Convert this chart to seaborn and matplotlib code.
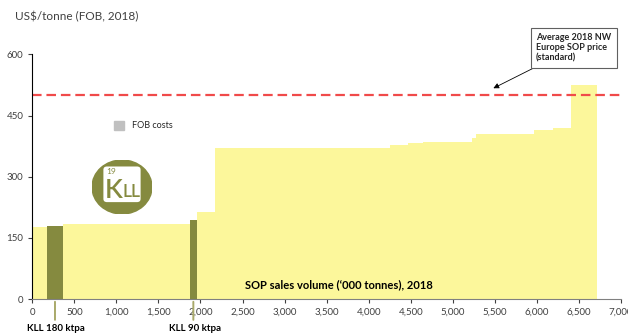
import numpy as np
import pandas as pd
import seaborn as sns
import matplotlib.pyplot as plt
from matplotlib.patches import Ellipse, FancyBboxPatch, Patch

# cost curve: step edges ('000 t) and FOB cost per step (US$/t)
edges = [0, 180, 360, 1870, 1960, 2170, 4250, 4470, 4650, 5230, 5280, 5970, 6190, 6400, 6715]
costs = [176, 178, 184, 193, 214, 371, 378, 383, 386, 396, 405, 414, 420, 525]
producer = ["Other", "KLL", "Other", "KLL", "Other", "Other", "Other", "Other",
            "Other", "Other", "Other", "Other", "Other", "Other"]
avg_price = 500
kll_labels = ["KLL 180 ktpa", "KLL 90 ktpa"]
kll_marks = [270, 1915]
x_ticks = list(range(0, 7001, 500))
y_ticks = [0, 150, 300, 450, 600]

yellow = "#fcf79b"
olive = "#858a3f"

sns.set_style("ticks")
plt.rcParams["font.family"] = ["Lato", "DejaVu Sans"]

df = pd.DataFrame({
    "mid": [(a + b) / 2 for a, b in zip(edges[:-1], edges[1:])],
    "cost": costs,
    "producer": producer,
})

fig = plt.figure(figsize=(6.28, 3.33), dpi=100)
ax = fig.add_axes([0.0514, 0.1021, 0.9375, 0.7345])

sns.histplot(data=df, x="mid", weights="cost", hue="producer", bins=edges,
             palette={"Other": yellow, "KLL": olive}, alpha=1, linewidth=0,
             multiple="layer", legend=False, ax=ax)

ax.axhline(avg_price, color="#f04a4a", lw=1.6, dashes=(4.3, 2.2))

ax.set_xlim(0, 7000)
ax.set_ylim(0, 600)
ax.set_xticks(x_ticks)
ax.set_xticklabels([f"{v:,}" for v in x_ticks])
ax.set_yticks(y_ticks)
ax.set_xlabel("")
ax.set_ylabel("")
ax.tick_params(labelsize=7, colors="#404040", length=3, width=0.8)
sns.despine(ax=ax)
ax.spines["left"].set_color("black")
ax.spines["bottom"].set_color("#808080")

ax.text(3640, 35, "SOP sales volume (\u2018000 tonnes), 2018", ha="center", va="center",
        fontsize=8, fontweight="bold", color="black")
fig.text(15 / 628, 1 - 17 / 333, "US$/tonne (FOB, 2018)", ha="left", va="center",
         fontsize=8.5, color="#404040")

# KLL markers below the axis
for xm, lab in zip(kll_marks, kll_labels):
    ax.annotate("", xy=(xm, 0), xycoords=("data", "axes fraction"),
                xytext=(0, -17), textcoords="offset points",
                arrowprops=dict(arrowstyle="-", color="#a9a96a", lw=1.4),
                annotation_clip=False)
    ax.annotate(lab, xy=(xm, 0), xycoords=("data", "axes fraction"),
                xytext=(1, -18), textcoords="offset points", ha="center", va="top",
                fontsize=7, fontweight="bold", color="black", annotation_clip=False)

# price callout
ax.annotate("Average 2018 NW\nEurope SOP price\n(standard)", xy=(5482, 517),
            xytext=(5990, 616), ha="left", va="center", fontsize=6.5, fontweight="bold",
            bbox=dict(boxstyle="square,pad=0.6", fc="white", ec="#606060", lw=0.8),
            arrowprops=dict(arrowstyle="-|>", color="black", lw=0.6,
                            shrinkA=0, shrinkB=0, mutation_scale=8),
            annotation_clip=False)

# legend
ax.legend(handles=[Patch(color="#c0c0c0", label="FOB costs")], loc="upper left",
          bbox_to_anchor=(0.138, 0.728), frameon=False, fontsize=6.5,
          borderpad=0, borderaxespad=0, handlelength=1.2, handleheight=1.1)

# KLL logo
lax = fig.add_axes([92 / 628, 1 - 214 / 333, 60 / 628, 54 / 333])
lax.set_xlim(0, 1)
lax.set_ylim(0, 1)
lax.axis("off")
lax.add_patch(Ellipse((0.5, 0.5), 1, 1, color=olive))
lax.add_patch(FancyBboxPatch((0.19, 0.22), 0.62, 0.66, boxstyle="round,pad=0,rounding_size=0.06",
                             fc="white", ec="none"))
lax.text(0.24, 0.78, "19", fontsize=6, color=olive, ha="left", va="center")
lax.text(0.22, 0.44, "K", fontsize=19, color=olive, ha="left", va="center",
         fontweight="semibold")
lax.text(0.51, 0.41, "LL", fontsize=12.5, color=olive, ha="left", va="center",
         fontweight="semibold")

fig.savefig("out.png", dpi=100)
